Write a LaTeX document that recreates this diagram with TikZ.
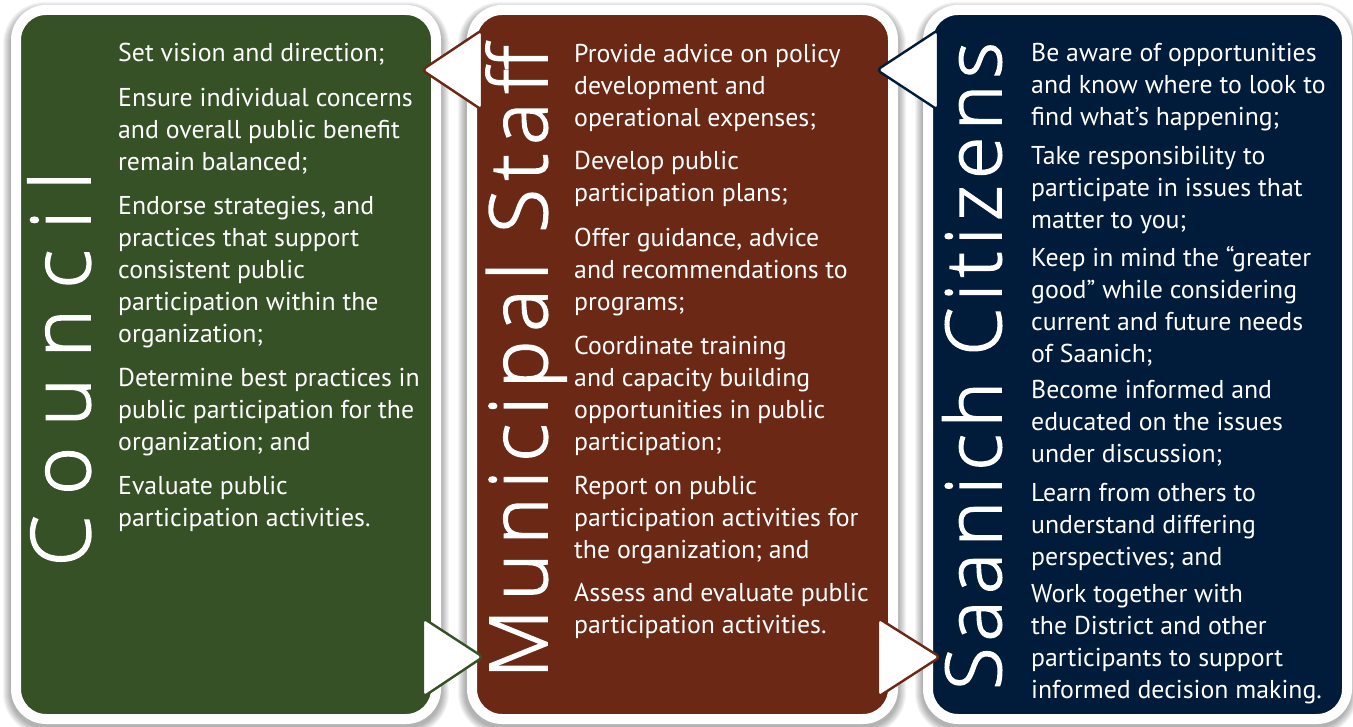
\documentclass[tikz,border=0pt]{standalone}
\usepackage{fontspec}
\newfontfamily\bodyfont{PT Sans}
\IfFontExistsTF{Open Sans Light}{\newfontfamily\titlefont{Open Sans Light}[FakeBold=2]}{%
 \IfFontExistsTF{Fira Sans Light}{\newfontfamily\titlefont{Fira Sans Light}[FakeBold=2]}{%
  \IfFontExistsTF{Lato Light}{\newfontfamily\titlefont{Lato Light}[FakeBold=2]}{%
   \newfontfamily\titlefont{Lato}}}}
\definecolor{cgreen}{RGB}{55,81,39}
\definecolor{cbrown}{RGB}{107,40,21}
\definecolor{cnavy}{RGB}{0,28,58}
\newcommand\panelshadow[4]{%
  \foreach \i in {1,...,8}{%
    \fill[black,opacity=0.045,rounded corners={(34+\i)*1pt}]
      ({#1-\i+1},{#2-\i+5}) rectangle ({#3+\i},{#4+\i+4});}}
\tikzset{
  panel/.style={rectangle,draw=white,line width=10pt,rounded corners=30pt,inner sep=0pt},
  item/.style={anchor=north west,inner sep=0pt,align=left,text=white,
    font=\bodyfont\fontsize{25.8}{32}\selectfont},
  ttl/.style={rotate=90,anchor=base,inner sep=0pt,text=white},
  arrowtri/.style={fill=white,line width=2.4pt,rounded corners=4pt,line join=round}
}
\begin{document}
\begin{tikzpicture}[x=1pt,y=-1pt]
\useasboundingbox (0,0) rectangle (1353,727);
% shadows
\panelshadow{10}{5}{441}{723}
\panelshadow{465}{5}{898}{723}
\panelshadow{922}{5}{1350}{723}
% panels
\node[panel,fill=cgreen,minimum width=420pt,minimum height=709pt] (p1) at (226,364.5) {};
\node[panel,fill=cbrown,minimum width=421pt,minimum height=709pt] (p2) at (682.5,364.5) {};
\node[panel,fill=cnavy,minimum width=419pt,minimum height=709pt] (p3) at (1137.5,364.5) {};
% titles
\node[ttl,font=\titlefont\addfontfeature{LetterSpace=25}\fontsize{82}{82}\selectfont] (t1) at (90,369) {Council};
\node[ttl,font=\titlefont\addfontfeature{LetterSpace=11}\fontsize{80}{80}\selectfont] (t2) at (547,362) {Municipal Staff};
\node[ttl,font=\titlefont\addfontfeature{LetterSpace=8.5}\fontsize{77}{77}\selectfont] (t3) at (1001,366) {Saanich Citizens};
% panel 1 text
\node[item] (c1) at (118,38.6) {\strut Set vision and direction;};
\node[item] (c2) at (118,83.6) {\strut Ensure individual concerns\\and overall public benefit\\remain balanced;};
\node[item] (c3) at (118,191.6) {\strut Endorse strategies, and\\practices that support\\consistent public\\participation within the\\organization;};
\node[item] (c4) at (118,363.6) {\strut Determine best practices in\\public participation for the\\organization; and};
\node[item] (c5) at (118,471.6) {\strut Evaluate public\\participation activities.};
% panel 2 text
\node[item] (s1) at (574,39.6) {\strut Provide advice on policy\\development and\\operational expenses;};
\node[item] (s2) at (574,146.6) {\strut Develop public\\participation plans;};
\node[item] (s3) at (574,223.6) {\strut Offer guidance, advice\\and recommendations to\\programs;};
\node[item] (s4) at (574,331.6) {\strut Coordinate training\\and capacity building\\opportunities in public\\participation;};
\node[item] (s5) at (574,471.6) {\strut Report on public\\participation activities for\\the organization; and};
\node[item] (s6) at (574,578.6) {\strut Assess and evaluate public\\participation activities.};
% panel 3 text
\node[item] (z1) at (1031,38.6) {\strut Be aware of opportunities\\and know where to look to\\find what’s happening;};
\node[item] (z2) at (1031,141.6) {\strut Take responsibility to\\participate in issues that\\matter to you;};
\node[item] (z3) at (1031,243.6) {\strut Keep in mind the “greater\\good” while considering\\current and future needs\\of Saanich;};
\node[item] (z4) at (1031,375.6) {\strut Become informed and\\educated on the issues\\under discussion;};
\node[item] (z5) at (1031,478.6) {\strut Learn from others to\\understand differing\\perspectives; and};
\node[item] (z6) at (1031,579.6) {\strut Work together with\\the District and other\\participants to support\\informed decision making.};
% arrows
\coordinate (a1tip) at (422,70);
\coordinate (a1b1) at (482,30);
\coordinate (a1b2) at (482,110);
\draw[arrowtri,draw=cbrown] (a1tip) -- (a1b1) -- (a1b2) -- cycle;
\coordinate (a2tip) at (483,657);
\coordinate (a2b1) at (423,618);
\coordinate (a2b2) at (423,697);
\draw[arrowtri,draw=cgreen] (a2tip) -- (a2b1) -- (a2b2) -- cycle;
\coordinate (a3tip) at (877,70);
\coordinate (a3b1) at (938,30);
\coordinate (a3b2) at (938,110);
\draw[arrowtri,draw=cnavy] (a3tip) -- (a3b1) -- (a3b2) -- cycle;
\coordinate (a4tip) at (940,657);
\coordinate (a4b1) at (878,618);
\coordinate (a4b2) at (878,697);
\draw[arrowtri,draw=cbrown] (a4tip) -- (a4b1) -- (a4b2) -- cycle;
\end{tikzpicture}
\end{document}
